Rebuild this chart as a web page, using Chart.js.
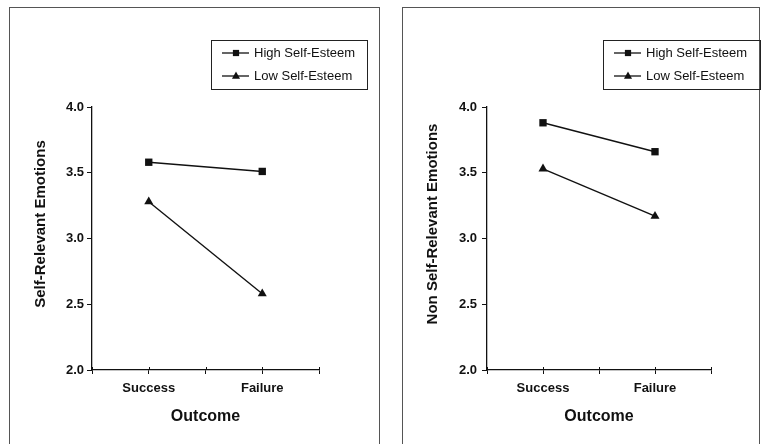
<!DOCTYPE html>
<html><head><meta charset="utf-8">
<script src="https://cdn.jsdelivr.net/npm/chart.js@4.4.1/dist/chart.umd.min.js"></script>
<style>
html,body{margin:0;padding:0;background:#fff;width:761px;height:444px;overflow:hidden;position:relative}
.panel{position:absolute;border:1px solid #555;border-bottom:none}
canvas{position:absolute}
</style></head><body>
<div class="panel" style="left:9px;top:7px;width:369px;height:440px"></div>
<div class="panel" style="left:402px;top:7px;width:356px;height:440px"></div>
<canvas id="c1" style="left:0;top:0;width:381px;height:444px"></canvas>
<canvas id="c2" style="left:381px;top:0;width:380px;height:444px"></canvas>
<script>
const categories = ['Success', 'Failure'];
const seriesNames = ['High Self-Esteem', 'Low Self-Esteem'];
const selfRelevantHigh = [3.58, 3.51];
const selfRelevantLow = [3.28, 2.58];
const nonSelfRelevantHigh = [3.88, 3.66];
const nonSelfRelevantLow = [3.53, 3.17];
const yTitles = ['Self-Relevant Emotions', 'Non Self-Relevant Emotions'];
const xTitle = 'Outcome';
const yMin = 2.0, yMax = 4.0, yStep = 0.5;

const FONT = '"Liberation Sans", Arial, Helvetica, sans-serif';
const INK = '#111';

const crossTicks = {
  id: 'crossTicks',
  afterDraw(chart) {
    const s = chart.scales.x, ctx = chart.ctx;
    ctx.save();
    ctx.strokeStyle = INK; ctx.lineWidth = 1;
    s.ticks.forEach(t => {
      const x = Math.round(s.getPixelForValue(t.value)) + 0.5;
      ctx.beginPath(); ctx.moveTo(x, s.top - 3); ctx.lineTo(x, s.top); ctx.stroke();
    });
    ctx.restore();
  }
};

const yTitle = {
  id: 'yTitle',
  afterDraw(chart, args, o) {
    const ctx = chart.ctx;
    ctx.save();
    ctx.translate(o.x, o.y);
    ctx.rotate(-Math.PI / 2);
    ctx.fillStyle = INK;
    ctx.font = 'bold 15px ' + FONT;
    ctx.textAlign = 'center'; ctx.textBaseline = 'middle';
    ctx.fillText(o.text, 0, 0);
    ctx.restore();
  }
};

function marker(ctx, style, x, y, r) {
  ctx.beginPath();
  if (style === 'rect') {
    const h = r * Math.SQRT1_2;
    ctx.rect(x - h, y - h, 2 * h, 2 * h);
  } else {
    ctx.moveTo(x, y - r);
    ctx.lineTo(x + r * 0.92, y + r * 0.6);
    ctx.lineTo(x - r * 0.92, y + r * 0.6);
    ctx.closePath();
  }
  ctx.fill();
}

const boxLegend = {
  id: 'boxLegend',
  afterDraw(chart, args, o) {
    const ctx = chart.ctx;
    ctx.save();
    ctx.strokeStyle = '#222'; ctx.lineWidth = 1;
    ctx.strokeRect(o.x + 0.5, o.y + 0.5, o.w, o.h);
    chart.data.datasets.forEach((ds, i) => {
      const yy = o.y + 13 + i * 23;
      ctx.strokeStyle = ds.borderColor; ctx.lineWidth = 1.3;
      ctx.beginPath(); ctx.moveTo(o.x + 11, yy); ctx.lineTo(o.x + 38, yy); ctx.stroke();
      ctx.fillStyle = ds.pointBackgroundColor;
      marker(ctx, ds.pointStyle, o.x + 25, yy, 4.4);
      ctx.fillStyle = INK;
      ctx.font = '13px ' + FONT;
      ctx.textBaseline = 'middle'; ctx.textAlign = 'left';
      ctx.fillText(ds.label, o.x + 43, yy + 0.5);
    });
    ctx.restore();
  }
};

function makeChart(id, high, low, yTitleText, L) {
  const toPts = arr => arr.map((v, i) => ({ x: i + 0.5, y: v }));
  const mk = (label, data, style) => ({
    label, data: toPts(data), borderColor: INK, backgroundColor: INK,
    pointBackgroundColor: INK, pointBorderColor: INK, borderWidth: 1.4,
    pointStyle: style, pointRadius: 5.2, pointBorderWidth: 0, tension: 0
  });
  return new Chart(document.getElementById(id), {
    type: 'line',
    data: { datasets: [mk(seriesNames[0], high, 'rect'), mk(seriesNames[1], low, 'triangle')] },
    options: {
      responsive: false, animation: false,
      layout: { padding: { top: 107, right: L.padRight, left: 0, bottom: 0 } },
      plugins: {
        legend: { display: false }, tooltip: { enabled: false },
        boxLegend: L.legend,
        yTitle: { text: yTitleText, x: L.titleX, y: 224 }
      },
      scales: {
        x: {
          type: 'linear', min: 0, max: categories.length,
          afterFit: s => { s.height = 74; },
          afterBuildTicks: s => { s.ticks = []; for (let v = 0; v <= categories.length + 1e-9; v += 0.5) s.ticks.push({ value: v }); },
          ticks: {
            autoSkip: false, maxRotation: 0, padding: 7, color: INK,
            font: { family: FONT, size: 13, weight: 'bold' },
            callback: v => { const k = v - 0.5; return Number.isInteger(k) ? categories[k] : ''; }
          },
          grid: { drawOnChartArea: false, drawTicks: true, tickLength: 4, color: INK, lineWidth: 1 },
          border: { color: INK, width: 1.3 },
          title: { display: true, text: xTitle, color: INK, font: { family: FONT, size: 16, weight: 'bold' }, padding: { top: 0, bottom: 18 } }
        },
        y: {
          min: yMin, max: yMax,
          afterFit: s => { s.width = L.yWidth; },
          ticks: { stepSize: yStep, padding: L.tickPad, color: INK, font: { family: FONT, size: 13, weight: 'bold' }, callback: v => v.toFixed(1) },
          grid: { drawOnChartArea: false, drawTicks: true, tickLength: 5, color: INK, lineWidth: 1 },
          border: { color: INK, width: 1.3 },
          title: { display: false }
        }
      }
    },
    plugins: [crossTicks, boxLegend, yTitle]
  });
}

function sizeCanvas(id, w, h) { const c = document.getElementById(id); c.width = w; c.height = h; }
sizeCanvas('c1', 381, 444); sizeCanvas('c2', 380, 444);

makeChart('c1', selfRelevantHigh, selfRelevantLow, yTitles[0],
  { padRight: 62, yWidth: 92, tickPad: 3, titleX: 41, legend: { x: 211, y: 40, w: 156, h: 49 } });
makeChart('c2', nonSelfRelevantHigh, nonSelfRelevantLow, yTitles[1],
  { padRight: 50, yWidth: 106, tickPad: 5, titleX: 52, legend: { x: 222, y: 40, w: 157, h: 49 } });
</script>
</body></html>
